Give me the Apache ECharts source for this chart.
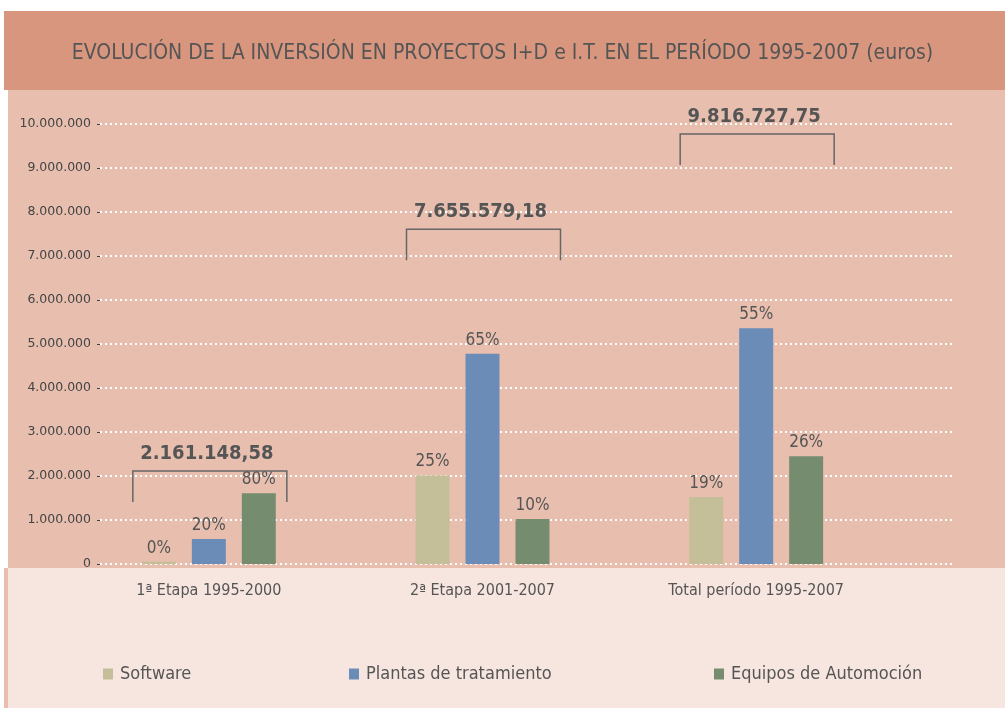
<!DOCTYPE html>
<html>
<head>
<meta charset="utf-8">
<script src="https://cdn.jsdelivr.net/npm/echarts@6/dist/echarts.min.js"></script>
<style>
  html, body { margin: 0; padding: 0; background: #fff; }
  #chart { width: 1005px; height: 708px; }
</style>
</head>
<body>
<div id="chart"></div>
<script>
// datos
const categorias = ["1ª Etapa 1995-2000", "2ª Etapa 2001-2007", "Total período 1995-2007"];
const software = [50000, 2010000, 1520000];
const plantas = [570000, 4780000, 5360000];
const equipos = [1610000, 1020000, 2450000];
const pctSoftware = ["0%", "25%", "19%"];
const pctPlantas = ["20%", "65%", "55%"];
const pctEquipos = ["80%", "10%", "26%"];
const totales = [2161148.58, 7655579.18, 9816727.75];
const totalesTexto = ["2.161.148,58", "7.655.579,18", "9.816.727,75"];

const colores = { software: "#c4bf98", plantas: "#6a8cb7", equipos: "#758d6e" };
const texto = "#555";
const fuente = "'Liberation Sans Narrow', 'DejaVu Sans Condensed', sans-serif";

function miles(v) {
  return String(v).replace(/\B(?=(\d{3})+(?!\d))/g, ".");
}

function serieBarra(nombre, datos, pct, color) {
  return {
    name: nombre,
    type: "bar",
    xAxisIndex: 0,
    yAxisIndex: 0,
    data: datos,
    barWidth: 34,
    barGap: "47%",
    itemStyle: { color: color },
    label: {
      show: true,
      position: "top",
      distance: 5,
      color: texto,
      fontFamily: fuente,
      fontSize: 17,
      formatter: p => pct[p.dataIndex]
    }
  };
}

const chart = echarts.init(document.getElementById("chart"));
chart.setOption({
  backgroundColor: "#fff",
  animation: false,
  graphic: [
    { type: "rect", z: -10, shape: { x: 4, y: 11, width: 1001, height: 79 }, style: { fill: "#d9967f" } },
    { type: "rect", z: -10, shape: { x: 8, y: 90, width: 997, height: 478 }, style: { fill: "#e8bfaf" } },
    { type: "rect", z: -10, shape: { x: 4, y: 568, width: 1001, height: 140 }, style: { fill: "#e8bfaf" } },
    { type: "rect", z: -10, shape: { x: 8, y: 568, width: 997, height: 140 }, style: { fill: "#f7e5df" } }
  ],
  title: {
    text: "EVOLUCIÓN DE LA INVERSIÓN EN PROYECTOS I+D e I.T. EN EL PERÍODO 1995-2007 (euros)",
    left: "center",
    top: 38,
    textStyle: { color: texto, fontFamily: fuente, fontSize: 21, fontWeight: "normal" }
  },
  legend: [
    { data: ["Software"], left: 98, top: 660 },
    { data: ["Plantas de tratamiento"], left: 344, top: 660 },
    { data: ["Equipos de Automoción"], left: 709, top: 660 }
  ].map(l => Object.assign(l, {
    icon: "rect",
    itemWidth: 10,
    itemHeight: 11,
    itemGap: 10,
    textStyle: { color: texto, fontFamily: fuente, fontSize: 18, padding: [4, 0, 0, 2] }
  })),
  grid: [
    { left: 72, right: 112, top: 124, bottom: 144 },
    { left: 100, right: 50, top: 124, bottom: 144 }
  ],
  xAxis: [
    {
      type: "category",
      gridIndex: 0,
      data: categorias,
      axisLine: { show: false },
      axisTick: { show: false },
      axisLabel: { color: texto, fontFamily: fuente, fontSize: 16, margin: 19 }
    },
    { type: "value", gridIndex: 1, show: false, min: 0, max: 1 }
  ],
  yAxis: [
    { type: "value", gridIndex: 0, min: 0, max: 10000000, interval: 1000000, show: false },
    {
      type: "value",
      gridIndex: 1,
      min: 0,
      max: 10000000,
      interval: 1000000,
      axisLine: { show: false },
      axisTick: { show: true, length: 3, lineStyle: { color: "#444" } },
      axisLabel: { color: "#444", fontFamily: "'DejaVu Sans', sans-serif", fontSize: 12.5, margin: 9, formatter: v => miles(v) },
      splitLine: { lineStyle: { color: "#fff", width: 2, type: [2, 3] } }
    }
  ],
  series: [
    serieBarra("Software", software, pctSoftware, colores.software),
    serieBarra("Plantas de tratamiento", plantas, pctPlantas, colores.plantas),
    serieBarra("Equipos de Automoción", equipos, pctEquipos, colores.equipos),
    {
      type: "custom",
      xAxisIndex: 0,
      yAxisIndex: 0,
      data: totales.map((t, i) => [i, t]),
      z: 5,
      renderItem: (params, api) => {
        const p = api.coord([api.value(0), api.value(1)]);
        const x = p[0] + 1, y = p[1] + 2, w = 77, h = 31;
        return {
          type: "group",
          children: [
            {
              type: "polyline",
              shape: { points: [[x - w, y + h], [x - w, y], [x + w, y], [x + w, y + h]] },
              style: { stroke: "#666", lineWidth: 1.5, fill: null }
            },
            {
              type: "text",
              style: {
                x: x - 3, y: y - 17,
                text: totalesTexto[params.dataIndex],
                fill: texto,
                font: "bold 20px " + fuente,
                align: "center",
                verticalAlign: "middle"
              }
            }
          ]
        };
      }
    }
  ]
});
</script>
</body>
</html>
